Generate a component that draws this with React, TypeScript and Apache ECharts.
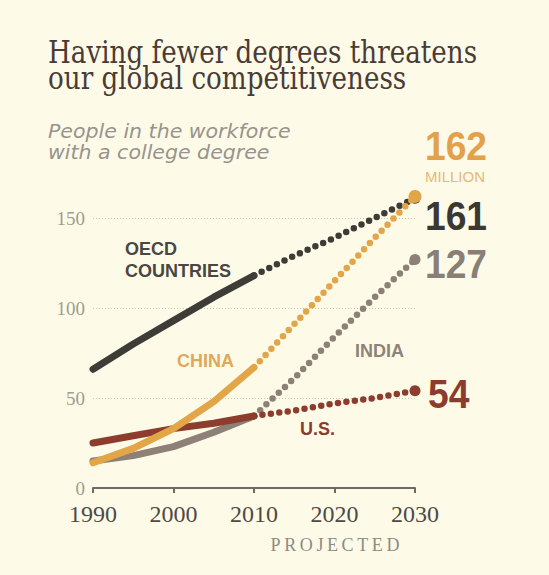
import { useEffect, useRef } from "react";
import * as echarts from "echarts";

// Workforce with a college degree, millions (2010 onward is projected)
const years = [1990, 1995, 2000, 2005, 2010, 2015, 2020, 2025, 2030];
const oecd = [66, 80, 93, 106, 118, 129, 139, 150, 161];
const china = [14, 22, 33, 48, 67, 91, 115, 139, 162];
const india = [15, 18, 23, 31, 40, 61, 84, 106, 127];
const us = [25, 29, 33, 36, 40, 43, 47, 50, 54];
const projectionStart = 2010;

const xTicks = [1990, 2000, 2010, 2020, 2030];
const yTicks = [0, 50, 100, 150];

const BG = "#fdfbe8";
const C_OECD = "#3e3c37";
const C_CHINA = "#e2a547";
const C_INDIA = "#8d8076";
const C_US = "#8c3d2d";

const SERIF = "'Liberation Serif', 'DejaVu Serif', serif";
const TITLE_SERIF = "'DejaVu Serif', 'Liberation Serif', serif";
const SANS = "'Liberation Sans', Arial, sans-serif";

function pairs(values: number[], fromYear: number, toYear: number) {
  const out: [number, number][] = [];
  years.forEach((y, i) => {
    if (y >= fromYear && y <= toYear) out.push([y, values[i]]);
  });
  return out;
}

function countrySeries(name: string, values: number[], color: string, endSize: number, z: number) {
  const actual = pairs(values, years[0], projectionStart);
  const projected = pairs(values, projectionStart, years[years.length - 1]);
  const last = projected.length - 1;
  return [
    {
      name,
      type: "line",
      data: actual,
      symbol: "none",
      clip: false,
      z,
      lineStyle: { color, width: 7, cap: "round", join: "round" },
    },
    {
      name: name + " projected",
      type: "line",
      data: projected,
      symbol: "circle",
      showSymbol: true,
      symbolSize: (_v: unknown, p: { dataIndex: number }) => (p.dataIndex === last ? endSize : 0),
      itemStyle: { color, borderWidth: 0 },
      clip: false,
      z,
      lineStyle: { color, width: 6.5, type: [0, 8.5], cap: "round" },
    },
  ];
}

function text(
  content: string,
  x: number,
  y: number,
  font: string,
  fill: string,
  opts: { scaleX?: number; align?: string } = {}
) {
  return {
    type: "text",
    x,
    y,
    scaleX: opts.scaleX ?? 1,
    silent: true,
    style: {
      text: content,
      x: 0,
      y: 0,
      font,
      fill,
      align: opts.align ?? "left",
      verticalAlign: "middle",
    },
  };
}

const lastOf = (a: number[]) => a[a.length - 1];

export default function App() {
  const ref = useRef<HTMLDivElement>(null);

  useEffect(() => {
    document.body.style.margin = "0";
    if (!ref.current) return;
    const chart = echarts.init(ref.current, undefined, { renderer: "svg" });

    chart.setOption({
      animation: false,
      backgroundColor: BG,
      grid: { left: 93, right: 134, top: 218, bottom: 87 },
      xAxis: {
        type: "value",
        min: xTicks[0],
        max: xTicks[xTicks.length - 1],
        interval: xTicks[1] - xTicks[0],
        axisLine: { show: true, lineStyle: { color: "#6d6b62", width: 2 } },
        axisTick: { show: true, length: 5, lineStyle: { color: "#6d6b62", width: 2 } },
        splitLine: { show: false },
        axisLabel: {
          formatter: (v: number) => String(v),
          fontFamily: SERIF,
          fontSize: 24,
          color: "#4f4a45",
          margin: 14,
        },
      },
      yAxis: {
        type: "value",
        min: yTicks[0],
        max: yTicks[yTicks.length - 1],
        interval: yTicks[1] - yTicks[0],
        axisLine: { show: false },
        axisTick: { show: false },
        splitLine: { show: true, lineStyle: { color: "#cbc5b5", width: 1, type: [1, 2] } },
        axisLabel: {
          fontFamily: SERIF,
          fontSize: 19,
          color: "#a29c90",
          margin: 8,
        },
      },
      series: [
        ...countrySeries("India", india, C_INDIA, 11, 3),
        ...countrySeries("U.S.", us, C_US, 11, 4),
        ...countrySeries("OECD countries", oecd, C_OECD, 11, 5),
        ...countrySeries("China", china, C_CHINA, 13, 6),
      ],
      graphic: [
        text("Having fewer degrees threatens", 48, 52, `31px ${TITLE_SERIF}`, "#4b3b37", { scaleX: 0.845 }),
        text("our global competitiveness", 48, 78, `31px ${TITLE_SERIF}`, "#4b3b37", { scaleX: 0.845 }),
        text("People in the workforce", 48, 132, `italic 19px 'DejaVu Sans', sans-serif`, "#98938c", { scaleX: 1.08 }),
        text("with a college degree", 48, 153, `italic 19px 'DejaVu Sans', sans-serif`, "#98938c", { scaleX: 1.08 }),

        text(String(lastOf(china)), 425, 146, `bold 40px ${SANS}`, "#e3a14a", { scaleX: 0.93 }),
        text("MILLION", 425, 176, `15px ${SANS}`, "#e6b878"),
        text(String(lastOf(oecd)), 425, 216, `bold 40px ${SANS}`, "#3b3834", { scaleX: 0.93 }),
        text(String(lastOf(india)), 425, 264, `bold 40px ${SANS}`, "#8a7f76", { scaleX: 0.93 }),
        text(String(lastOf(us)), 428, 394, `bold 40px ${SANS}`, "#8c3b2c", { scaleX: 0.93 }),

        text("OECD", 125, 249, `bold 18px ${SANS}`, "#4a4642"),
        text("COUNTRIES", 125, 271, `bold 18px ${SANS}`, "#4a4642"),
        text("CHINA", 177, 361, `bold 18px ${SANS}`, "#e0a85a"),
        text("INDIA", 355, 351, `bold 18px ${SANS}`, "#8f8378"),
        text("U.S.", 300, 429, `bold 18px ${SANS}`, "#8c3b2c"),

        text("P\u2009R\u2009O\u2009J\u2009E\u2009C\u2009T\u2009E\u2009D", 335, 545, `18px ${SERIF}`, "#8e8a85", { align: "center" }),
      ],
    });

    return () => chart.dispose();
  }, []);

  return <div ref={ref} style={{ width: 549, height: 575 }} />;
}
